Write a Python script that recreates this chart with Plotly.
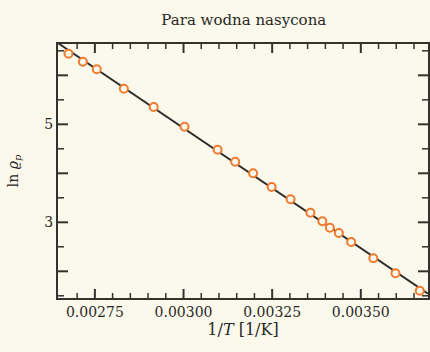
import numpy as np
import plotly.graph_objects as go

# Data (1/T in 1/K, ln rho_p)
inv_T = [0.0026757, 0.0027161, 0.0027553, 0.0028318, 0.0029159, 0.0030028,
         0.0030961, 0.0031457, 0.0031962, 0.0032486, 0.0033019, 0.0033579,
         0.0033915, 0.0034128, 0.0034381, 0.0034728, 0.0035353, 0.0035978,
         0.0036662]
ln_rho = [6.441, 6.278, 6.122, 5.727, 5.353, 4.951,
          4.482, 4.237, 4.000, 3.720, 3.469, 3.196,
          3.020, 2.890, 2.782, 2.598, 2.265, 1.959,
          1.604]

# tick positions
x_major_ticks = [0.00275, 0.00300, 0.00325, 0.00350]
x_major_text = ["0.00275", "0.00300", "0.00325", "0.00350"]
x_minor_ticks = [0.00270, 0.00280, 0.00285, 0.00290, 0.00295,
                 0.00305, 0.00310, 0.00315, 0.00320, 0.00330, 0.00335,
                 0.00340, 0.00345, 0.00355, 0.00360, 0.00365]
y_label_ticks = [3, 5]
y_label_text = ["3", "5"]
y_major_ticks = [2, 3, 4, 5, 6]
y_minor_ticks = [1.5, 2.5, 3.5, 4.5, 5.5, 6.5]

x_range = [0.002646, 0.0036895]
y_range = [1.455, 6.639]

# least-squares fit line across the axis range
slope, intercept = np.polyfit(inv_T, ln_rho, 1)
fit_x = np.array(x_range)
fit_y = slope * fit_x + intercept

bg = "#fbf9ec"
axis_col = "#35322e"
serif = "DejaVu Serif"

fig = go.Figure()
fig.add_trace(go.Scatter(x=fit_x, y=fit_y, mode="lines",
                         line=dict(color="#2e2c2a", width=2), hoverinfo="skip",
                         showlegend=False))
fig.add_trace(go.Scatter(x=inv_T, y=ln_rho, mode="markers",
                         marker=dict(symbol="circle", size=8, color=bg,
                                     line=dict(color="#f07a30", width=2)),
                         showlegend=False))

common = dict(showgrid=False, zeroline=False, showline=True,
              linecolor=axis_col, linewidth=2, mirror=True, ticks="")

fig.update_layout(
    width=430, height=352,
    margin=dict(l=58, r=0, t=44, b=54),
    paper_bgcolor=bg, plot_bgcolor=bg,
    font=dict(family=serif, size=13, color="#2a2826"),
    title=dict(text="Para wodna nasycona", x=0.567, xanchor="center",
               y=1 - 20 / 352, yanchor="middle",
               font=dict(family=serif, size=15, color="#2a2826")),
    xaxis=dict(range=x_range, tickmode="array", tickvals=x_major_ticks,
               ticktext=x_major_text,
               tickfont=dict(family=serif, size=14),
               title=dict(text="1/<i>T</i> [1/K]",
                          font=dict(family=serif, size=16), standoff=4),
               **common),
    yaxis=dict(range=y_range, tickmode="array", tickvals=y_label_ticks,
               ticktext=y_label_text,
               tickfont=dict(family=serif, size=14),
               title=dict(text="ln <i>ϱ</i><sub><i>p</i></sub>",
                          font=dict(family=serif, size=14), standoff=22),
               **common),
)

# tick marks drawn inside, on all four sides
def x_tick(v, length, width, top):
    fig.add_shape(type="line", xref="x", yref="paper", ysizemode="pixel",
                  yanchor=1 if top else 0, x0=v, x1=v,
                  y0=0, y1=-length if top else length,
                  line=dict(color=axis_col, width=width), layer="above")

def y_tick(v, length, width, right):
    fig.add_shape(type="line", xref="paper", yref="y", xsizemode="pixel",
                  xanchor=1 if right else 0, y0=v, y1=v,
                  x0=0, x1=-length if right else length,
                  line=dict(color=axis_col, width=width), layer="above")

for top in (False, True):
    for v in x_major_ticks:
        x_tick(v, 9, 2, top)
    for v in x_minor_ticks:
        x_tick(v, 5, 1.5, top)
for right in (False, True):
    for v in y_major_ticks:
        y_tick(v, 10, 2, right)
    for v in y_minor_ticks:
        y_tick(v, 6, 1.5, right)

fig.write_html("out.html", config={"displayModeBar": False},
               post_script="document.body.style.margin='0';"
                           "document.body.style.overflow='hidden';")
